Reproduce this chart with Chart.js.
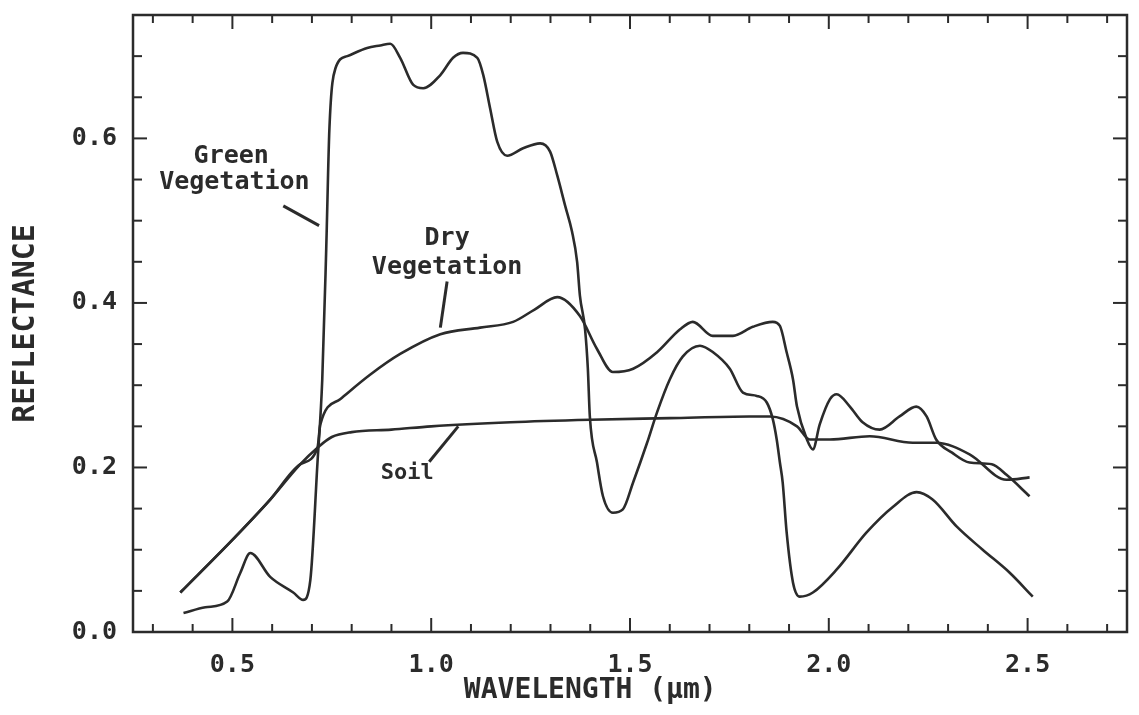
<!DOCTYPE html>
<html><head><meta charset="utf-8">
<script src="https://cdn.jsdelivr.net/npm/chart.js@4.4.1/dist/chart.umd.min.js"></script>
<style>html,body{margin:0;padding:0;background:#fff;}#wrap{width:1139px;height:715px;position:relative;}</style>
</head><body><div id="wrap"><canvas id="c" width="1139" height="715"></canvas></div>
<script>
// Wavelength (µm) and reflectance values
const GREEN_X = [0.377,0.432,0.487,0.52,0.545,0.595,0.653,0.678,0.696,0.714,0.726,0.736,0.744,0.759,0.789,0.839,0.872,0.897,0.922,0.955,0.98,1.023,1.055,1.08,1.116,1.131,1.148,1.166,1.191,1.231,1.274,1.299,1.317,1.337,1.354,1.367,1.374,1.387,1.394,1.399,1.417,1.432,1.457,1.482,1.508,1.543,1.568,1.6,1.633,1.676,1.709,1.751,1.784,1.819,1.844,1.859,1.869,1.877,1.884,1.894,1.91,1.927,1.96,2.02,2.095,2.161,2.221,2.261,2.322,2.387,2.455,2.513];
const GREEN_Y = [0.023,0.03,0.037,0.072,0.096,0.067,0.048,0.039,0.063,0.206,0.307,0.466,0.612,0.685,0.70,0.71,0.713,0.715,0.698,0.665,0.661,0.677,0.698,0.704,0.698,0.677,0.637,0.596,0.579,0.588,0.594,0.584,0.555,0.518,0.487,0.45,0.409,0.368,0.32,0.262,0.206,0.165,0.145,0.149,0.182,0.23,0.267,0.307,0.335,0.348,0.34,0.32,0.291,0.287,0.279,0.259,0.234,0.206,0.182,0.121,0.06,0.043,0.048,0.076,0.121,0.152,0.17,0.161,0.128,0.1,0.072,0.043];

const DRY_X = [0.369,0.5,0.595,0.671,0.714,0.721,0.771,0.847,0.922,1.023,1.123,1.206,1.26,1.317,1.374,1.417,1.457,1.508,1.568,1.626,1.658,1.708,1.759,1.809,1.859,1.877,1.894,1.91,1.92,1.945,1.96,1.977,2.003,2.02,2.053,2.085,2.128,2.178,2.22,2.246,2.27,2.31,2.354,2.41,2.447,2.505];
const DRY_Y = [0.048,0.112,0.161,0.204,0.224,0.252,0.283,0.313,0.338,0.362,0.37,0.377,0.392,0.407,0.384,0.344,0.316,0.32,0.34,0.368,0.377,0.36,0.36,0.371,0.377,0.372,0.34,0.307,0.274,0.234,0.222,0.252,0.283,0.289,0.274,0.255,0.246,0.262,0.274,0.262,0.234,0.218,0.206,0.204,0.191,0.165];

const SOIL_X = [0.369,0.5,0.595,0.671,0.714,0.75,0.8,0.9,1.0,1.2,1.4,1.6,1.8,1.852,1.92,1.952,2.003,2.103,2.211,2.27,2.354,2.447,2.505];
const SOIL_Y = [0.048,0.112,0.161,0.204,0.224,0.237,0.243,0.246,0.25,0.255,0.258,0.26,0.262,0.262,0.25,0.234,0.234,0.238,0.23,0.23,0.216,0.185,0.188];

const X_TICKS = [0.5,1.0,1.5,2.0,2.5];
const Y_TICKS = [0.0,0.2,0.4,0.6];
const X_TITLE = 'WAVELENGTH (μm)';
const Y_TITLE = 'REFLECTANCE';
const SERIES_NAMES = ['Green Vegetation','Dry Vegetation','Soil'];

const pts = (xs, ys) => xs.map((x, i) => ({x, y: ys[i]}));
const INK = '#2b2b2b';
const MONO = '"DejaVu Sans Mono", "Liberation Mono", monospace';

const framePlugin = {
  id: 'frame',
  afterDraw(chart) {
    const {ctx, chartArea: a, scales: {x, y}} = chart;
    ctx.save();
    ctx.strokeStyle = INK;
    ctx.lineCap = 'butt';
    ctx.lineWidth = 2.5;
    ctx.strokeRect(a.left, a.top, a.right - a.left, a.bottom - a.top);
    const seg = (x1, y1, x2, y2) => { ctx.beginPath(); ctx.moveTo(x1, y1); ctx.lineTo(x2, y2); ctx.stroke(); };
    ctx.lineWidth = 2;
    for (let i = Math.ceil(x.min * 10 - 1e-9); i <= Math.floor(x.max * 10 + 1e-9); i++) {
      const v = i / 10;
      const px = x.getPixelForValue(v);
      const major = X_TICKS.some(t => Math.abs(t - v) < 1e-6);
      const L = major ? 14 : 8;
      seg(px, a.bottom, px, a.bottom - L);
      seg(px, a.top, px, a.top + L);
    }
    for (let i = Math.ceil(y.min * 20 - 1e-9); i <= Math.floor(y.max * 20 + 1e-9); i++) {
      const v = i / 20;
      const py = y.getPixelForValue(v);
      const major = Y_TICKS.some(t => Math.abs(t - v) < 1e-6);
      const L = major ? 14 : 9;
      seg(a.left, py, a.left + L, py);
      seg(a.right, py, a.right - L, py);
    }
    ctx.fillStyle = INK;
    ctx.font = 'bold 28px ' + MONO;
    ctx.textAlign = 'center';
    ctx.textBaseline = 'middle';
    ctx.fillText(X_TITLE, x.getPixelForValue(1.4), a.bottom + 59);
    const P = (vx, vy) => [x.getPixelForValue(vx), y.getPixelForValue(vy)];
    const text = (s, vx, vy, size) => { ctx.font = 'bold ' + size + 'px ' + MONO; const [px, py] = P(vx, vy); ctx.fillText(s, px, py); };
    const ptr = (x1, y1, x2, y2) => { const [a1, b1] = P(x1, y1); const [a2, b2] = P(x2, y2); ctx.lineWidth = 3; seg(a1, b1, a2, b2); };
    text('Green', 0.497, 0.578, 25);
    text('Vegetation', 0.505, 0.547, 25);
    ptr(0.628, 0.518, 0.718, 0.494);
    text('Dry', 1.04, 0.478, 25);
    text('Vegetation', 1.04, 0.443, 25);
    ptr(1.04, 0.426, 1.023, 0.37);
    text('Soil', 0.94, 0.193, 22);
    ptr(0.995, 0.207, 1.068, 0.25);
    ctx.restore();
  }
};

const mkSet = (label, data) => ({
  label, data, showLine: true, borderColor: INK, borderWidth: 2.6,
  pointRadius: 0, cubicInterpolationMode: 'monotone', fill: false
});

new Chart(document.getElementById('c'), {
  type: 'scatter',
  data: {
    datasets: [
      mkSet(SERIES_NAMES[0], pts(GREEN_X, GREEN_Y)),
      mkSet(SERIES_NAMES[1], pts(DRY_X, DRY_Y)),
      mkSet(SERIES_NAMES[2], pts(SOIL_X, SOIL_Y))
    ]
  },
  options: {
    responsive: false,
    animation: false,
    layout: {padding: {left: 0, top: 15, right: 12, bottom: 0}},
    plugins: {legend: {display: false}, tooltip: {enabled: false}},
    scales: {
      x: {
        type: 'linear', min: 0.25, max: 2.75,
        afterBuildTicks: s => { s.ticks = X_TICKS.map(v => ({value: v})); },
        afterFit: s => { s.height = 83; s.paddingLeft = 0; s.paddingRight = 0; },
        grid: {display: false, drawTicks: false},
        border: {display: false},
        ticks: {padding: 18, color: INK, font: {family: MONO, size: 25, weight: 'bold'},
                callback: v => Number(v).toFixed(1), maxRotation: 0, autoSkip: false}
      },
      y: {
        type: 'linear', min: 0, max: 0.75,
        afterBuildTicks: s => { s.ticks = Y_TICKS.map(v => ({value: v})); },
        afterFit: s => { s.width = 133; s.paddingTop = 0; s.paddingBottom = 0; },
        grid: {display: false, drawTicks: false},
        border: {display: false},
        title: {display: true, text: Y_TITLE, color: INK, padding: {top: 8, bottom: 0},
                font: {family: MONO, size: 30, weight: 'bold'}},
        ticks: {padding: 16, color: INK, font: {family: MONO, size: 25, weight: 'bold'},
                callback: v => Number(v).toFixed(1), autoSkip: false}
      }
    }
  },
  plugins: [framePlugin]
});
</script></body></html>
